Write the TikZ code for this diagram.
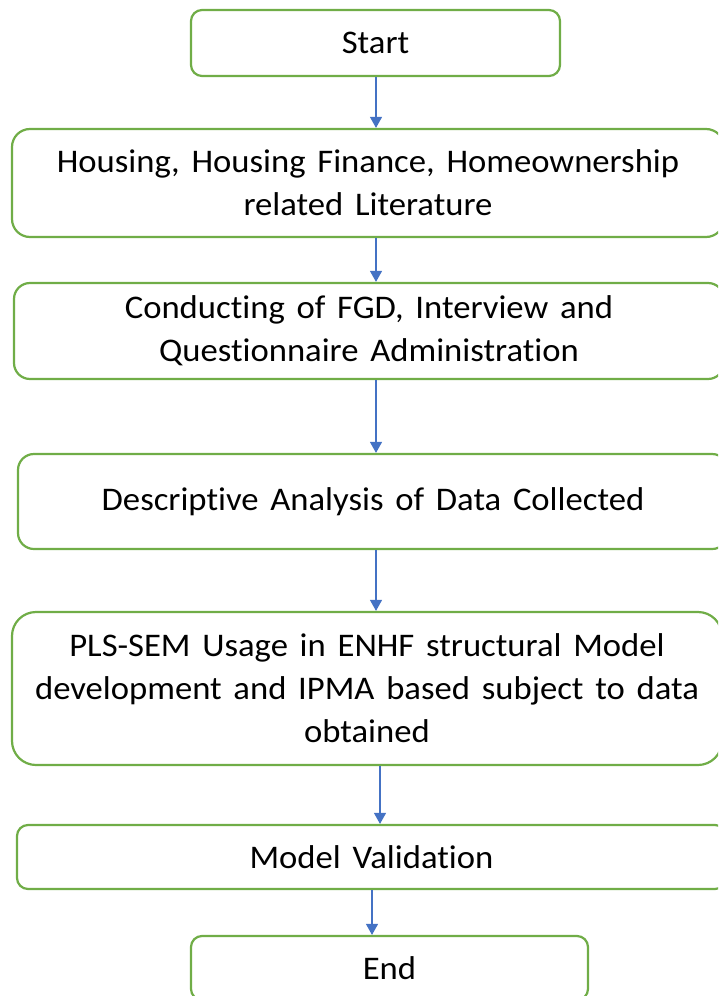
\documentclass[tikz,border=0pt]{standalone}
\usepackage{fontspec}
\setmainfont{Carlito}[Ligatures=NoCommon, FakeStretch=1.05, WordSpace=1.5]
\usetikzlibrary{arrows.meta}
\definecolor{boxgreen}{HTML}{70AD47}
\definecolor{arrowblue}{HTML}{4472C4}
\begin{document}
\begin{tikzpicture}[x=1pt,y=-1pt,
  stepbox/.style={draw=boxgreen, line width=2.2pt, fill=white, rectangle,
    inner sep=0pt, align=center, text=black,
    font=\fontsize{33}{43}\selectfont},
  flow/.style={draw=arrowblue, line width=1.1pt,
    -{Triangle[length=11pt,width=12pt]}}]
\useasboundingbox (0,0) rectangle (718,996);
\clip (0,0) rectangle (718,996);

% process steps, top to bottom
\node[stepbox, rounded corners=11pt, minimum width=369pt, minimum height=66pt]
  (start) at (375.5,43) {Start};
\node[stepbox, rounded corners=18pt, minimum width=712pt, minimum height=108pt]
  (lit) at (368,183) {Housing, Housing Finance, Homeownership\\related Literature};
\node[stepbox, rounded corners=16pt, minimum width=710pt, minimum height=96pt]
  (fgd) at (369,331) {Conducting of FGD, Interview and\\Questionnaire Administration};
\node[stepbox, rounded corners=16pt, minimum width=710pt, minimum height=95pt]
  (desc) at (373,501.5) {Descriptive Analysis of Data Collected};
\node[stepbox, rounded corners=24pt, minimum width=710pt, minimum height=153pt]
  (pls) at (367,688.5) {PLS-SEM Usage in ENHF structural Model\\development and IPMA based subject to data\\obtained};
\node[stepbox, rounded corners=11pt, minimum width=709pt, minimum height=64pt]
  (valid) at (371.5,857) {Model Validation};
\node[stepbox, rounded corners=11pt, minimum width=397pt, minimum height=64pt]
  (finish) at (389.5,968) {End};

% vertical lanes of the connectors
\coordinate (laneA) at (376,0);
\coordinate (laneB) at (380,0);
\coordinate (laneC) at (372,0);

\draw[flow] (start.south -| laneA) -- (lit.north -| laneA);
\draw[flow] (lit.south -| laneA) -- (fgd.north -| laneA);
\draw[flow] (fgd.south -| laneA) -- (desc.north -| laneA);
\draw[flow] (desc.south -| laneA) -- (pls.north -| laneA);
\draw[flow] (pls.south -| laneB) -- (valid.north -| laneB);
\draw[flow] (valid.south -| laneC) -- (finish.north -| laneC);
\end{tikzpicture}
\end{document}
